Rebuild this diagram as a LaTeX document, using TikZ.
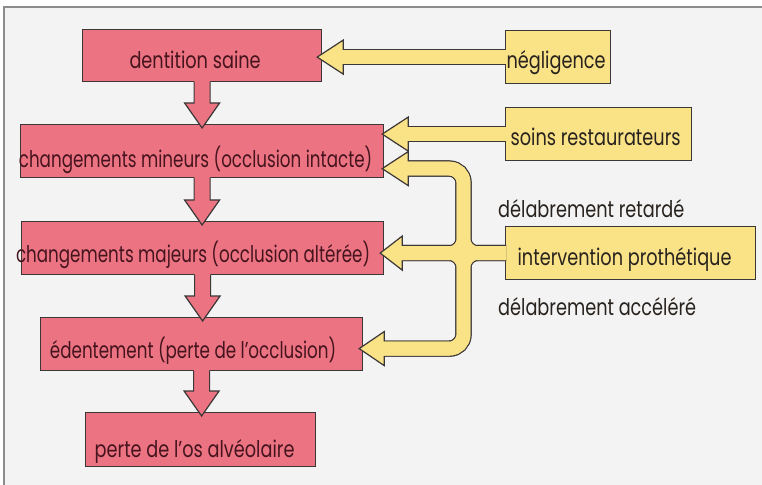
\documentclass[tikz,border=0pt]{standalone}
\usepackage{graphicx}
\usepackage{fontspec}
\setmainfont{Poppins}[FakeStretch=0.77]
\usetikzlibrary{calc}
\definecolor{pinkfill}{RGB}{236,116,130}
\definecolor{yelfill}{RGB}{250,226,135}
\definecolor{edge}{RGB}{60,55,55}
\definecolor{pinktext}{RGB}{70,20,30}
\definecolor{ytext}{RGB}{40,35,30}
\definecolor{bgfill}{RGB}{243,243,243}
\definecolor{frameline}{RGB}{140,140,140}
\newcommand\boxtext[2]{\makebox[0pt]{\kern#1\relax#2\kern-#1\relax}}
\newcommand\narrow[1]{\scalebox{0.945}[1]{#1}}
\newcommand\pinkdown[2]{%
  \fill[pinkfill] ($(#1.south)+(-8,-1.5)$) -- ($(#1.south |- #2.north)+(-8,-21)$) -- ++(-9.5,0)
    -- ($(#1.south |- #2.north)+(0,4)$) -- ($(#1.south |- #2.north)+(17.5,-21)$) -- ++(-9.5,0)
    -- ($(#1.south)+(8,-1.5)$) -- cycle;
  \draw[outl] ($(#1.south)+(-8,-0.6)$) -- ($(#1.south |- #2.north)+(-8,-21)$) -- ++(-9.5,0)
    -- ($(#1.south |- #2.north)+(0,4)$) -- ($(#1.south |- #2.north)+(17.5,-21)$) -- ++(-9.5,0)
    -- ($(#1.south)+(8,-0.6)$);
}
\newcommand\yhead[2]{% base, tip
  \filldraw[fill=yelfill, outl] ($(#1)+(0,-17)$) -- (#2) -- ($(#1)+(0,17)$) -- cycle;
}
\begin{document}
\begin{tikzpicture}[x=1bp,y=-1bp, font=\fontsize{23bp}{27bp}\selectfont,
  outl/.style={draw=edge, line width=1.2bp, line join=miter},
  pinkbox/.style={draw=edge, line width=1.2bp, fill=pinkfill, text=pinktext, inner sep=0pt, anchor=north west},
  yelbox/.style={draw=edge, line width=1.2bp, fill=yelfill, text=ytext, inner sep=0pt, anchor=north west},
  lbl/.style={text=ytext, inner sep=0pt, anchor=base west},
  yout/.style={draw=edge, line width=16.2bp, rounded corners=14bp},
  yin/.style={draw=yelfill, line width=13.8bp, rounded corners=14bp},
  ]
\useasboundingbox (0,0) rectangle (762,485);
\fill[white] (0,0) rectangle (762,485);
\fill[bgfill] (4,7) rectangle (762,485);
\draw[frameline, line width=1.2bp] (4,485) -- (4,7) -- (762,7);

% pink boxes
\node[pinkbox, minimum width=239bp, text height=39bp, text depth=13bp] (ds) at (82,29) {\boxtext{-7bp}{dentition saine}};
\node[pinkbox, minimum width=363bp, text height=43bp, text depth=10bp] (mn) at (20,124) {\boxtext{-6.5bp}{\narrow{changements mineurs (occlusion intacte)}}};
\node[pinkbox, minimum width=362bp, text height=41bp, text depth=12bp] (mj) at (21,221) {\boxtext{-9.5bp}{\narrow{changements majeurs (occlusion altérée)}}};
\node[pinkbox, minimum width=322bp, text height=41bp, text depth=12bp] (ed) at (40,317) {\boxtext{-8.5bp}{\narrow{édentement (perte de l’occlusion)}}};
\node[pinkbox, minimum width=230bp, text height=45bp, text depth=9bp] (os) at (85,412) {\boxtext{-6bp}{perte de l’os alvéolaire}};

% yellow boxes
\node[yelbox, minimum width=105bp, text height=38bp, text depth=15bp] (ng) at (505,30) {\boxtext{-2bp}{négligence}};
\node[yelbox, minimum width=186bp, text height=38bp, text depth=15bp] (so) at (505,107) {\boxtext{-3bp}{soins restaurateurs}};
\node[yelbox, minimum width=250bp, text height=39bp, text depth=14bp] (iv) at (505,226) {\boxtext{-6bp}{intervention prothétique}};

% labels
\node[lbl] (lr) at (498,218) {délabrement retardé};
\node[lbl] (la) at (498,315) {délabrement accéléré};

% pink down arrows
\pinkdown{ds}{mn}
\pinkdown{mn}{mj}
\pinkdown{mj}{ed}
\pinkdown{ed}{os}

% yellow arrow geometry
\coordinate (tN) at ($(ng.west -| ds.east)+(-5,0)$);
\coordinate (bN) at ($(tN)+(26,0)$);
\coordinate (tS) at ($(so.west -| mn.east)+(-2,0)$);
\coordinate (bS) at ($(tS)+(26,0)$);
\coordinate (tA) at ($(mn.east)+(-2,17.5)$);
\coordinate (bA) at ($(tA)+(26,0)$);
\coordinate (tB) at ($(iv.west -| mj.east)+(-4,0)$);
\coordinate (bB) at ($(tB)+(22,0)$);
\coordinate (tC) at ($(ed.east)+(-4,4.5)$);
\coordinate (bC) at ($(tC)+(25,0)$);
\coordinate (J) at ($(iv.west)+(-41.5,0)$);

% outline layer
\draw[yout] ($(ng.west)+(1,0)$) -- (bN);
\draw[yout] ($(so.west)+(1,0)$) -- (bS);
\draw[yout] ($(iv.west)+(1,0)$) -- (J) -- (J |- tA) -- (bA);
\draw[yout] ($(iv.west)+(1,0)$) -- (J) -- (J |- tC) -- (bC);
\draw[yout] (bB) -- (J) -- (J |- tA) -- (bA);
\draw[yout] (bB) -- (J) -- (J |- tC) -- (bC);
% heads
\yhead{bN}{tN}
\yhead{bS}{tS}
\yhead{bA}{tA}
\yhead{bB}{tB}
\yhead{bC}{tC}
% fill layer
\draw[yin] ($(ng.west)+(1,0)$) -- ($(bN)+(-1,0)$);
\draw[yin] ($(so.west)+(1,0)$) -- ($(bS)+(-1,0)$);
\draw[yin] ($(iv.west)+(1,0)$) -- (J) -- (J |- tA) -- ($(bA)+(-1,0)$);
\draw[yin] ($(iv.west)+(1,0)$) -- (J) -- (J |- tC) -- ($(bC)+(-1,0)$);
\draw[yin] ($(bB)+(-1,0)$) -- (J) -- (J |- tA) -- ($(bA)+(-1,0)$);
\draw[yin] ($(bB)+(-1,0)$) -- (J) -- (J |- tC) -- ($(bC)+(-1,0)$);
\end{tikzpicture}
\end{document}
